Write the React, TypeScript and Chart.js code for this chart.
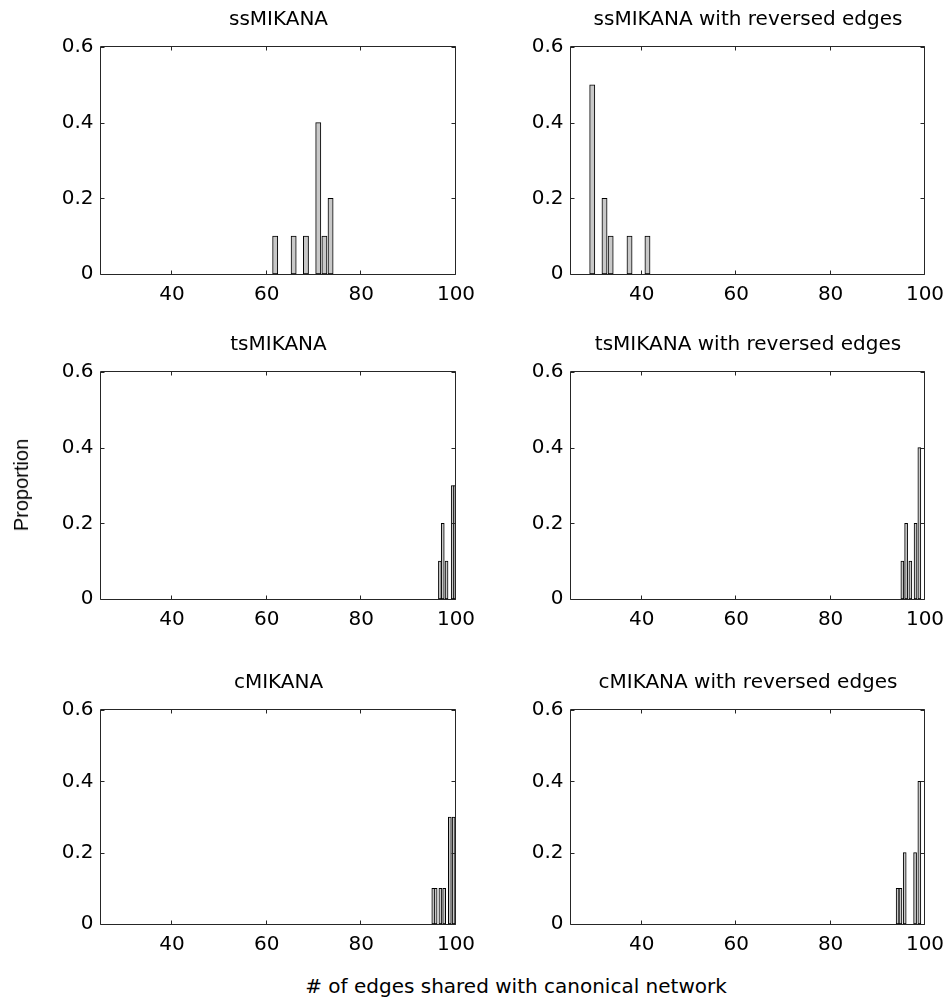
import React, { useEffect, useRef } from "react";
import { Chart, registerables } from "chart.js";

Chart.register(...registerables);

// ---------------- data ----------------
const PANEL_TITLES = [
  "ssMIKANA",
  "ssMIKANA with reversed edges",
  "tsMIKANA",
  "tsMIKANA with reversed edges",
  "cMIKANA",
  "cMIKANA with reversed edges",
];

const SS_EDGES = [61.8, 65.7, 68.3, 70.9, 72.2, 73.5];
const SS_PROP = [0.1, 0.1, 0.1, 0.4, 0.1, 0.2];

const SS_REV_EDGES = [29.5, 32.1, 33.4, 37.4, 41.2];
const SS_REV_PROP = [0.5, 0.2, 0.1, 0.1, 0.1];

const TS_EDGES = [96.6, 97.2, 98.0, 99.3, 99.8];
const TS_PROP = [0.1, 0.2, 0.1, 0.3, 0.3];

const TS_REV_EDGES = [95.2, 96.0, 96.9, 98.0, 98.8];
const TS_REV_PROP = [0.1, 0.2, 0.1, 0.2, 0.4];

const C_EDGES = [95.2, 95.7, 96.7, 97.5, 98.7, 99.5];
const C_PROP = [0.1, 0.1, 0.1, 0.1, 0.3, 0.3];

const C_REV_EDGES = [94.2, 94.8, 95.7, 97.9, 98.8];
const C_REV_PROP = [0.1, 0.1, 0.2, 0.2, 0.4];

const X_TICKS = [40, 60, 80, 100];
const Y_TICKS = [0, 0.2, 0.4, 0.6];
const X_MIN = 25;
const X_MAX = 100;
const Y_MIN = 0;
const Y_MAX = 0.6;

const X_LABEL = "# of edges shared with canonical network";
const Y_LABEL = "Proportion";

// ---------------- layout / style ----------------
const FONT = "'DejaVu Sans', 'Liberation Sans', sans-serif";
const YLABEL_FONT = "'Liberation Sans', Arial, sans-serif";
const FONT_SIZE = 20;
const BAR_FILL = "#c8c8c8";
const BAR_EDGE = "#000000";
const AXIS_COLOR = "#262626";
const TICK_LEN = 4;

const SIDE = 70; // space for y tick labels (left) and a mirrored blank axis (right)
const TITLE_H = 45;
const TITLE_PAD_TOP = 6;
const AXIS_H = 40;

const COL_LEFT = [101, 571];
const COL_W = [355, 354];
const ROW_TOP = [47, 372, 710];
const ROW_H = [227, 227, 214];

const boxPlugin = {
  id: "matlabBox",
  afterDraw(chart: any) {
    const { ctx, chartArea: a } = chart;
    const xs = chart.scales.x;
    const ys = chart.scales.y;
    const L = Math.round(a.left) - 0.5;
    const R = Math.round(a.right) - 0.5;
    const T = Math.round(a.top) - 0.5;
    const B = Math.round(a.bottom) + 0.5;
    ctx.save();
    ctx.strokeStyle = AXIS_COLOR;
    ctx.lineWidth = 1;
    ctx.beginPath();
    ctx.rect(L, T, R - L, B - T);
    for (const v of X_TICKS) {
      const p = Math.round(xs.getPixelForValue(v)) - 0.5;
      ctx.moveTo(p, B);
      ctx.lineTo(p, B - TICK_LEN);
      ctx.moveTo(p, T);
      ctx.lineTo(p, T + TICK_LEN);
    }
    for (const v of Y_TICKS) {
      const p = Math.round(ys.getPixelForValue(v)) + 0.5;
      ctx.moveTo(L, p);
      ctx.lineTo(L + TICK_LEN, p);
      ctx.moveTo(R, p);
      ctx.lineTo(R - TICK_LEN, p);
    }
    ctx.stroke();
    ctx.restore();
  },
};

type PanelProps = {
  title: string;
  xs: number[];
  ys: number[];
  barPx: number;
  left: number;
  top: number;
  w: number;
  h: number;
};

function Panel({ title, xs, ys, barPx, left, top, w, h }: PanelProps) {
  const ref = useRef<HTMLCanvasElement>(null);
  const cw = SIDE + w + SIDE;
  const ch = TITLE_H + h + AXIS_H;

  useEffect(() => {
    if (!ref.current) return;
    const tickFont = { family: FONT, size: FONT_SIZE, weight: "normal" as const, lineHeight: 1.2 };
    const chart = new Chart(ref.current, {
      type: "bar",
      data: {
        datasets: [
          {
            data: xs.map((x, i) => ({ x, y: ys[i] })),
            backgroundColor: BAR_FILL,
            borderColor: BAR_EDGE,
            borderWidth: 1,
            borderSkipped: false,
            barThickness: barPx,
            yAxisID: "y",
          } as any,
        ],
      },
      options: {
        responsive: false,
        animation: false,
        devicePixelRatio: 1,
        layout: { padding: 0 },
        plugins: {
          legend: { display: false },
          tooltip: { enabled: false },
          title: {
            display: true,
            text: title,
            color: "#000",
            font: { family: FONT, size: FONT_SIZE, weight: "normal", lineHeight: 1.2 },
            padding: { top: TITLE_PAD_TOP, bottom: TITLE_H - TITLE_PAD_TOP - FONT_SIZE * 1.2 },
          },
        },
        scales: {
          x: {
            type: "linear",
            min: X_MIN,
            max: X_MAX,
            offset: false,
            grid: { display: false, drawTicks: false },
            border: { display: false },
            afterBuildTicks: (s: any) => {
              s.ticks = X_TICKS.map((v) => ({ value: v }));
            },
            afterFit: (s: any) => {
              s.height = AXIS_H;
            },
            ticks: {
              color: "#000",
              font: tickFont,
              padding: 9,
              maxRotation: 0,
              autoSkip: false,
              callback: (v: any) => String(v),
            },
          },
          y: {
            type: "linear",
            position: "left",
            min: Y_MIN,
            max: Y_MAX,
            grid: { display: false, drawTicks: false },
            border: { display: false },
            afterBuildTicks: (s: any) => {
              s.ticks = Y_TICKS.map((v) => ({ value: v }));
            },
            afterFit: (s: any) => {
              s.width = SIDE;
            },
            ticks: {
              color: "#000",
              font: tickFont,
              padding: 7.5,
              autoSkip: false,
              callback: (v: any) => String(v),
            },
          },
          yMirror: {
            type: "linear",
            position: "right",
            min: Y_MIN,
            max: Y_MAX,
            grid: { display: false, drawTicks: false },
            border: { display: false },
            ticks: { display: false },
            afterFit: (s: any) => {
              s.width = SIDE;
            },
          },
        },
      } as any,
      plugins: [boxPlugin],
    });
    return () => chart.destroy();
  }, [title, xs, ys, barPx, w, h]);

  return (
    <canvas
      ref={ref}
      width={cw}
      height={ch}
      style={{ position: "absolute", left: left - SIDE, top: top - TITLE_H, width: cw, height: ch }}
    />
  );
}

const PANELS = [
  { xs: SS_EDGES, ys: SS_PROP, barPx: 5.2 },
  { xs: SS_REV_EDGES, ys: SS_REV_PROP, barPx: 5.2 },
  { xs: TS_EDGES, ys: TS_PROP, barPx: 3 },
  { xs: TS_REV_EDGES, ys: TS_REV_PROP, barPx: 3 },
  { xs: C_EDGES, ys: C_PROP, barPx: 3 },
  { xs: C_REV_EDGES, ys: C_REV_PROP, barPx: 3 },
];

export default function App() {
  return (
    <div
      style={{
        position: "absolute",
        left: 0,
        top: 0,
        width: 948,
        height: 1005,
        background: "#fff",
        overflow: "hidden",
      }}
    >
      {PANELS.map((p, i) => {
        const r = Math.floor(i / 2);
        const c = i % 2;
        return (
          <Panel
            key={i}
            title={PANEL_TITLES[i]}
            xs={p.xs}
            ys={p.ys}
            barPx={p.barPx}
            left={COL_LEFT[c]}
            top={ROW_TOP[r]}
            w={COL_W[c]}
            h={ROW_H[r]}
          />
        );
      })}
      <div
        style={{
          position: "absolute",
          left: 21,
          top: 485,
          transform: "translate(-50%, -50%) rotate(-90deg)",
          fontFamily: YLABEL_FONT,
          fontSize: FONT_SIZE,
          lineHeight: "20px",
          whiteSpace: "nowrap",
          color: "#000",
        }}
      >
        {Y_LABEL}
      </div>
      <div
        style={{
          position: "absolute",
          left: 516,
          top: 976,
          transform: "translateX(-50%)",
          fontFamily: FONT,
          fontSize: FONT_SIZE,
          lineHeight: "20px",
          whiteSpace: "nowrap",
          color: "#000",
        }}
      >
        {X_LABEL}
      </div>
    </div>
  );
}
